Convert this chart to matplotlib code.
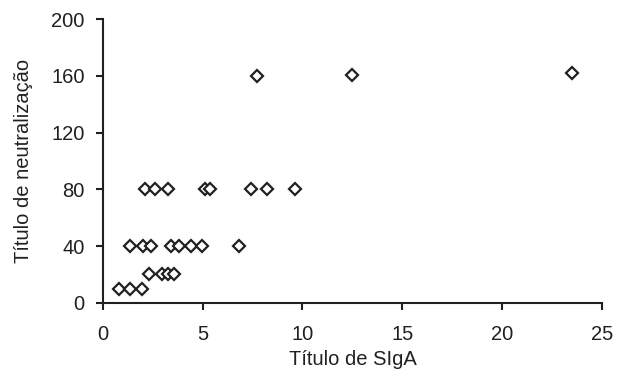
import matplotlib.pyplot as plt

plt.rcParams['font.family'] = ['Liberation Sans', 'DejaVu Sans']

# Título de SIgA (x) vs título de neutralização (y)
sigA = [0.84, 1.39, 1.97,
        2.30, 2.98, 3.26, 3.55,
        1.39, 2.00, 2.42, 3.43, 3.84, 4.43, 4.96, 6.81,
        2.10, 2.64, 3.26, 5.10, 5.35, 7.40, 8.24, 9.62,
        7.71, 12.49, 23.48]
neutral = [10, 10, 10,
           20, 20, 20, 20,
           40, 40, 40, 40, 40, 40, 40, 40,
           80, 80, 80, 80, 80, 80, 80, 80,
           160, 161, 162]

xticks = [0, 5, 10, 15, 20, 25]
yticks = [0, 40, 80, 120, 160, 200]

ink = '#231f20'

fig = plt.figure(figsize=(6.26, 3.71), dpi=100)
ax = fig.add_axes([0.164, 0.184, 0.798, 0.764])

ax.plot(sigA, neutral, linestyle='none', marker='D', markersize=6,
        markerfacecolor='white', markeredgecolor=ink, markeredgewidth=1.6)

ax.set_xlim(0, 25)
ax.set_ylim(0, 200)
ax.set_xticks(xticks)
ax.set_yticks(yticks)

for s in ['top', 'right']:
    ax.spines[s].set_visible(False)
for s in ['left', 'bottom']:
    ax.spines[s].set_color(ink)
    ax.spines[s].set_linewidth(1.5)

ax.tick_params(direction='out', length=5, width=1.5, color=ink,
               labelsize=14.5, labelcolor=ink)
ax.tick_params(axis='x', pad=11)
ax.tick_params(axis='y', pad=8)

ax.set_xlabel('Título de SIgA', fontsize=14.5, color=ink, labelpad=4)
ax.set_ylabel('Título de neutralização', fontsize=14.5, color=ink, labelpad=13)

fig.savefig('out.png', dpi=100)
